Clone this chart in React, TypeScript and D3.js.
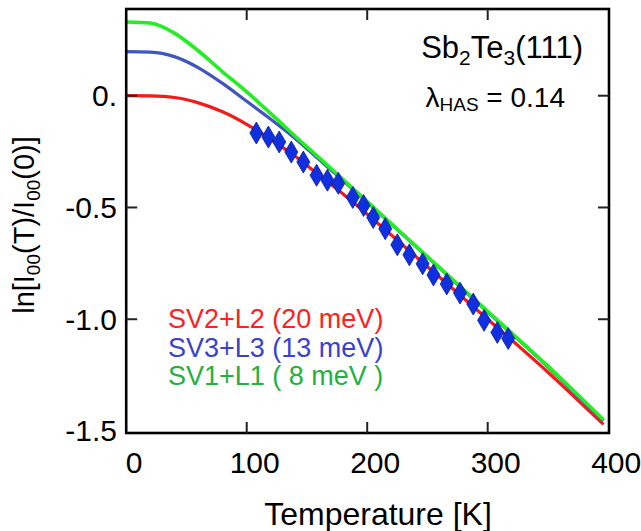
import React from "react";
import * as d3 from "d3";

const curveT = [0, 20, 40, 60, 80, 100, 120, 140, 160, 180, 200, 250, 300, 350, 396];
const redV = [0, -0.001, -0.008, -0.032, -0.072, -0.128, -0.195, -0.27, -0.355, -0.44, -0.53, -0.765, -1.0, -1.237, -1.47];
const blueV = [0.197, 0.195, 0.175, 0.125, 0.055, -0.025, -0.105, -0.19, -0.285, -0.38, -0.477, -0.722, -0.968, -1.214, -1.455];
const greenV = [0.33, 0.325, 0.28, 0.2, 0.107, 0.017, -0.08, -0.18, -0.277, -0.375, -0.474, -0.72, -0.965, -1.21, -1.45];

const dataT = [108, 118, 127, 137, 147, 158, 167, 176, 188, 197, 205, 215, 225, 235, 246, 255, 266, 277, 288, 297, 308, 317];
const dataV = [-0.167, -0.185, -0.207, -0.252, -0.297, -0.356, -0.378, -0.392, -0.455, -0.491, -0.545, -0.595, -0.667, -0.712, -0.752, -0.802, -0.842, -0.883, -0.932, -1.005, -1.059, -1.086];

const xTicks = [0, 100, 200, 300, 400];
const xTickLabels = ["0", "100", "200", "300", "400"];
const yTicks = [0, -0.5, -1.0, -1.5];
const yTickLabels = ["0.", "-0.5", "-1.0", "-1.5"];

const legendItems = ["SV2+L2 (20 meV)", "SV3+L3 (13 meV)", "SV1+L1 ( 8 meV )"];
const legendColors = ["#ff2020", "#3a42cc", "#22b040"];

const FONT = "'Liberation Sans', Arial, sans-serif";

export default function App() {
  const left = 126.2, right = 608.2, top = 9, bottom = 433;
  const x = d3.scaleLinear().domain([0, 400]).range([left, right]);
  const y = d3.scaleLinear().domain([-1.509, 0.388]).range([bottom, top]);

  const line = (vals: number[]) =>
    d3.line<number>()
      .x((_, i) => x(curveT[i]))
      .y((v) => y(v))
      .curve(d3.curveMonotoneX)(vals) as string;

  const frameRight = 609;
  const tickLen = 11;

  return (
    <svg
      width={641}
      height={531}
      style={{ position: "absolute", left: 0, top: 0, background: "#fff" }}
      fontFamily={FONT}
    >
      <rect x={0} y={0} width={641} height={531} fill="#fff" />
      {/* curves */}
      <path d={line(redV)} fill="none" stroke="#f51a1a" strokeWidth={3.2} />
      <path d={line(blueV)} fill="none" stroke="#3f55c0" strokeWidth={3.2} />
      <path d={line(greenV)} fill="none" stroke="#22ee22" strokeWidth={3.6} />

      {/* data diamonds */}
      {dataT.map((t, i) => {
        const cx = x(t), cy = y(dataV[i]);
        return (
          <path
            key={i}
            d={`M${cx},${cy - 11} L${cx + 6.5},${cy} L${cx},${cy + 11} L${cx - 6.5},${cy} Z`}
            fill="#1030e0"
            stroke="#0a1c9a"
            strokeWidth={0.8}
          />
        );
      })}

      {/* frame */}
      <rect x={left} y={top} width={frameRight - left} height={bottom - top} fill="none" stroke="#000" strokeWidth={2.6} />

      {/* x ticks */}
      {xTicks.slice(1, 4).map((t) => (
        <g key={"xt" + t} stroke="#222" strokeWidth={2}>
          <line x1={x(t)} x2={x(t)} y1={bottom} y2={bottom - tickLen} />
          <line x1={x(t)} x2={x(t)} y1={top} y2={top + tickLen} />
        </g>
      ))}
      {/* y ticks */}
      {yTicks.slice(0, 3).map((v) => (
        <g key={"yt" + v} stroke="#222" strokeWidth={2}>
          <line x1={left} x2={left + tickLen} y1={y(v)} y2={y(v)} />
          <line x1={frameRight} x2={frameRight - tickLen} y1={y(v)} y2={y(v)} />
        </g>
      ))}

      {/* x tick labels */}
      {xTicks.map((t, i) => (
        <text key={"xl" + t} x={x(t) + 8} y={473} fontSize={30} textAnchor="middle" fill="#000">
          {xTickLabels[i]}
        </text>
      ))}
      {/* y tick labels */}
      {yTicks.map((v, i) => (
        <text key={"yl" + v} x={117} y={y(v) + 10.5} fontSize={30} textAnchor="end" fill="#000">
          {yTickLabels[i]}
        </text>
      ))}

      {/* axis titles */}
      <text x={378} y={525} fontSize={32} textAnchor="middle" fill="#000">
        Temperature [K]
      </text>
      <text transform="translate(34,225) rotate(-90)" fontSize={29} textAnchor="middle" fill="#000">
        <tspan>ln[I</tspan>
        <tspan fontSize={19} dy={6}>00</tspan>
        <tspan dy={-6}>(T)/I</tspan>
        <tspan fontSize={19} dy={6}>00</tspan>
        <tspan dy={-6}>(0)]</tspan>
      </text>

      {/* annotations */}
      <text x={583} y={58} fontSize={31} textAnchor="end" fill="#000">
        <tspan>Sb</tspan>
        <tspan fontSize={21} dy={7}>2</tspan>
        <tspan dy={-7}>Te</tspan>
        <tspan fontSize={21} dy={7}>3</tspan>
        <tspan dy={-7}>(111)</tspan>
      </text>
      <text x={565} y={107} fontSize={28} textAnchor="end" fill="#000">
        <tspan>λ</tspan>
        <tspan fontSize={19} dy={4}>HAS</tspan>
        <tspan dy={-4}> = 0.14</tspan>
      </text>

      {/* legend */}
      {legendItems.map((s, i) => (
        <text key={s} x={168} y={328 + i * 28.5} fontSize={27} fill={legendColors[i]}>
          {s}
        </text>
      ))}
    </svg>
  );
}
